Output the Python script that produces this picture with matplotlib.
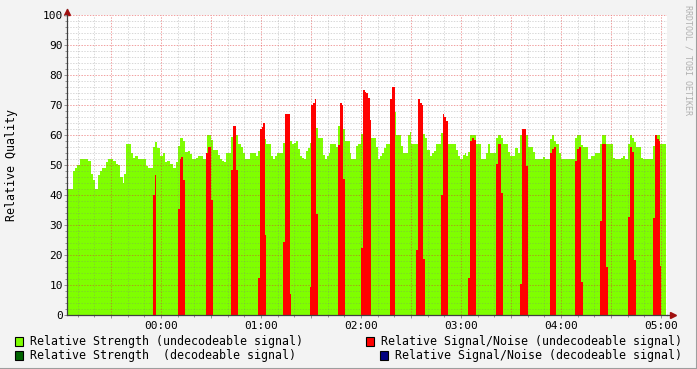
import matplotlib
matplotlib.use('Agg')
import matplotlib.pyplot as plt
from matplotlib.patches import Rectangle
from matplotlib.ticker import MultipleLocator, FuncFormatter

W, H = 697, 369
MONO = 'DejaVu Sans Mono'

# time in minutes relative to 00:00, values in percent
green_t = [-57.0, -52.8, -51.6, -50.2, -48.6, -43.8, -42.2, -40.8, -39.4, -37.8,
           -36.6, -35.4, -33.0, -31.8, -28.8, -27.2, -25.8, -24.6, -23.0, -22.2,
           -21.0, -17.8, -16.6, -15.4, -13.8, -9.0, -7.8, -5.0, -3.6, -2.4,
           -0.6, 1.2, 2.4, 3.6, 5.6, 7.0, 8.8, 10.4, 11.4, 13.2,
           14.6, 16.2, 17.4, 18.6, 21.0, 22.2, 25.4, 27.4, 29.8, 31.0,
           34.2, 35.4, 36.6, 37.8, 39.0, 41.8, 43.0, 46.2, 47.8, 49.0,
           50.2, 53.4, 57.0, 58.2, 59.4, 63.0, 66.0, 67.2, 68.4, 69.8,
           73.2, 77.4, 78.6, 79.8, 81.0, 82.2, 83.4, 84.6, 85.8, 87.0,
           88.2, 89.4, 93.0, 94.2, 97.0, 98.2, 99.4, 100.6, 101.4, 105.0,
           106.2, 107.8, 109.4, 110.4, 113.4, 114.2, 117.0, 118.2, 119.8, 121.8,
           125.4, 126.0, 129.0, 130.2, 131.4, 132.6, 133.8, 135.0, 140.4, 141.0,
           144.0, 145.2, 148.2, 149.4, 150.0, 157.2, 158.4, 159.6, 161.4, 162.6,
           163.8, 165.0, 168.2, 172.2, 177.0, 178.2, 179.4, 181.2, 182.4, 183.0,
           184.2, 185.4, 189.0, 192.0, 195.0, 196.2, 197.4, 201.0, 202.2, 204.0,
           205.2, 208.2, 209.4, 212.4, 214.2, 215.4, 220.2, 223.2, 224.4, 229.2,
           230.4, 233.4, 234.6, 235.8, 237.0, 238.8, 240.0, 248.4, 249.6, 252.0,
           253.2, 256.2, 258.0, 260.4, 263.4, 264.6, 267.0, 271.2, 272.4, 276.0,
           277.2, 278.4, 280.2, 281.4, 282.6, 283.8, 285.0, 288.0, 289.2, 295.2,
           296.4, 299.4, 303.0]
green_v = [42, 48, 49, 50, 52, 51.5, 47, 45, 42, 46.7,
           48, 49, 51, 52, 51.3, 50.2, 50, 46, 44, 47,
           57, 54, 52.5, 53, 52, 49.7, 49, 56, 57.7, 55.7,
           53, 54, 51, 51.4, 50.5, 49, 51, 56.3, 59, 58,
           54.3, 54.8, 53.7, 52, 52.3, 53, 52, 60, 58.3, 55,
           53.2, 52, 51.3, 51, 54, 59.3, 60, 57, 56, 54,
           52, 54, 53, 54.7, 58.7, 57, 53, 52, 53, 54,
           57.4, 58, 57, 57.4, 58, 55.3, 53, 52.4, 52, 54.8,
           55.7, 57.2, 62.3, 59, 53.3, 52, 53, 54, 57, 56,
           63, 62.3, 62, 58, 54, 52, 56.3, 57, 60.3, 62,
           65, 59, 56, 52, 53, 54, 55.7, 57, 67.7, 60,
           56.3, 54, 60, 61, 57, 60.3, 59, 55, 53, 54,
           54.7, 57, 60.7, 57, 55, 53, 52, 53.3, 54, 53,
           54.3, 60, 57, 52, 54, 57, 54, 59, 60, 59,
           57, 54.3, 53, 55.7, 54, 60, 56, 54.3, 52, 52.7,
           52, 58.7, 60, 58, 57, 54, 52, 59, 60, 56.7,
           56, 52, 53, 54, 57, 60, 57, 52.3, 52, 52.3,
           53, 52, 57, 60, 59, 57.7, 56, 52.3, 52, 56.3,
           60, 57, 57]

# signal/noise bursts, 0 = no value
red_t = [-4.8, -3.6, -3.0,
         10.2, 11.4, 12.0, 13.2, 14.4,
         27.0, 28.2, 30.0, 31.2,
         42.0, 43.2, 45.0, 46.2,
         58.2, 59.4, 60.6, 61.2, 62.4, 63.0,
         73.2, 74.4, 77.4, 78.0,
         89.4, 90.0, 91.2, 92.4, 93.0, 94.2,
         106.2, 107.4, 108.6, 109.2, 110.4,
         120.0, 121.2, 122.4, 123.0, 124.2, 125.4, 126.0,
         137.4, 138.6, 140.4,
         153.0, 154.2, 155.4, 156.6, 157.2, 158.4,
         168.0, 169.2, 169.8, 171.0, 172.2,
         184.2, 185.4, 186.6, 187.8, 189.0,
         201.0, 202.2, 204.0, 205.2,
         215.4, 216.6, 219.0, 220.2,
         233.4, 234.6, 235.8, 237.0,
         248.4, 249.6, 250.8, 252.0, 253.2,
         263.4, 264.6, 267.0, 268.2,
         280.2, 281.4, 282.6, 283.8, 285.0,
         295.2, 296.4, 297.6, 298.8, 299.4, 300.0]
red_v = [40, 46.7, 0,
         35.3, 52, 52.7, 45, 0,
         54, 56, 38.3, 0,
         48.3, 63, 48.3, 0,
         12.3, 62, 62.7, 64, 26.7, 0,
         24.3, 67, 7, 0,
         9.3, 70, 70.7, 72, 33.7, 0,
         56.7, 70.7, 70, 45.3, 0,
         22.3, 75, 74.3, 74, 72.3, 65, 0,
         72, 76, 0,
         21.7, 72, 70.7, 70, 18.7, 0,
         40, 67, 66, 64.7, 0,
         12.3, 58, 59, 58.3, 0,
         50.3, 57, 40.7, 0,
         10.3, 62, 49.7, 0,
         54, 55.3, 56, 0,
         51.3, 55.3, 56, 11, 0,
         31.3, 57, 16, 0,
         32.7, 56, 54.3, 18.3, 0,
         32.3, 60, 58.7, 58, 16.3, 0]

legend_labels = ['Relative Strength (undecodeable signal)',
                 'Relative Strength  (decodeable signal)',
                 'Relative Signal/Noise (undecodeable signal)',
                 'Relative Signal/Noise (decodeable signal)']
legend_colors = ['#7FFF00', '#006400', '#FF0000', '#000080']

fig = plt.figure(figsize=(W / 100, H / 100), dpi=100)
fig.patch.set_facecolor('#F3F3F3')

# plot area: x 67..667, y 15..315 in pixels
ax = fig.add_axes([67 / W, 1 - 315 / H, 600 / W, 300 / H])
ax.set_facecolor('white')

# grid shows through the green area but not through the red one
ax.fill_between(green_t, green_v, step='post', color='#7FFF00', linewidth=0, zorder=1)
ax.fill_between(red_t, red_v, step='post', color='#FF0000', linewidth=0, zorder=3)

ax.set_xlim(-56.4, 303.6)
ax.set_ylim(0, 100)

ax.xaxis.set_major_locator(MultipleLocator(30))
ax.xaxis.set_minor_locator(MultipleLocator(10))
ax.yaxis.set_major_locator(MultipleLocator(10))
ax.yaxis.set_minor_locator(MultipleLocator(2))


def fmt_time(m, pos):
    m = int(round(m))
    if m % 60:
        return ''
    return '%02d:00' % ((m // 60) % 24)


ax.xaxis.set_major_formatter(FuncFormatter(fmt_time))
ax.yaxis.set_major_formatter(FuncFormatter(lambda v, p: '%d' % v))

ax.set_axisbelow(False)
ax.grid(which='minor', color='#808080', alpha=0.3, linestyle=(0, (1.4, 1.4)), linewidth=0.72)
ax.grid(which='major', color='#E03030', alpha=0.45, linestyle=(0, (1.4, 1.4)), linewidth=0.72)

ax.tick_params(which='both', direction='out', color='#909090', width=0.7,
               labelsize=8, labelcolor='#000000')
ax.tick_params(which='major', length=2.5, pad=2)
ax.tick_params(which='minor', length=1.5)
ax.tick_params(axis='y', which='major', pad=0.5)
for lab in ax.get_xticklabels() + ax.get_yticklabels():
    lab.set_family(MONO)

for s in ['top', 'right']:
    ax.spines[s].set_visible(False)
for s in ['left', 'bottom']:
    ax.spines[s].set_color('#404040')
    ax.spines[s].set_linewidth(0.9)
    ax.spines[s].set_zorder(4)

# axis arrows
ax.plot([0, 0], [1, 1.02], transform=ax.transAxes, clip_on=False, color='#404040', lw=0.9)
ax.plot([1, 1.012], [0, 0], transform=ax.transAxes, clip_on=False, color='#404040', lw=0.9)
ax.plot([0], [1.01], marker='^', markersize=4, color='#A01010', transform=ax.transAxes, clip_on=False)
ax.plot([1.01], [0], marker='>', markersize=4, color='#A01010', transform=ax.transAxes, clip_on=False)

fig.text(12 / W, 1 - 165 / H, 'Relative Quality', rotation=90, ha='center', va='center',
         family=MONO, fontsize=8.4, color='#000000')
fig.text(688 / W, 1 - 5 / H, 'RRDTOOL / TOBI OETIKER', rotation=270, ha='center', va='top',
         family=MONO, fontsize=6, color='#B0B0B0')

# legend
entries = [(15, 341.5), (15, 355.5), (366, 341.5), (380, 355.5)]
for (bx, by), lab, col in zip(entries, legend_labels, legend_colors):
    fig.patches.append(Rectangle((bx / W, 1 - (by + 4.5) / H), 8 / W, 9 / H,
                                 transform=fig.transFigure, facecolor=col,
                                 edgecolor='black', linewidth=0.8))
    fig.text((bx + 15) / W, 1 - by / H, lab, ha='left', va='center',
             family=MONO, fontsize=8.35, color='#000000')

# shaded frame
fig.add_artist(plt.Line2D([0, 1], [0.5 / H, 0.5 / H], transform=fig.transFigure,
                          color='#9E9E9E', lw=1.5))
fig.add_artist(plt.Line2D([1 - 0.5 / W, 1 - 0.5 / W], [0, 1], transform=fig.transFigure,
                          color='#9E9E9E', lw=1.5))

fig.savefig('out.png', dpi=100, facecolor=fig.get_facecolor())
